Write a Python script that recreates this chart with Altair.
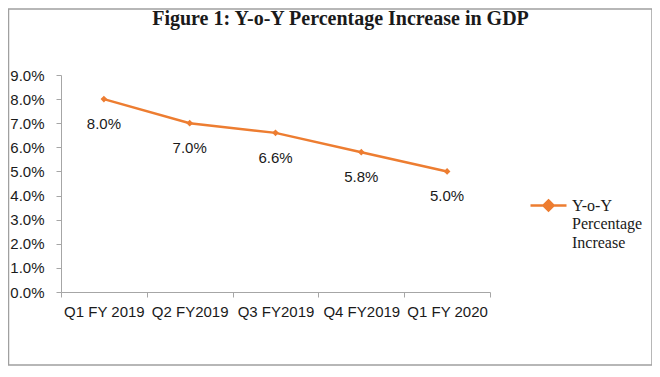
import altair as alt
import pandas as pd

quarters = ["Q1 FY 2019", "Q2 FY2019", "Q3 FY2019", "Q4 FY2019", "Q1 FY 2020"]
growth = [0.080, 0.070, 0.066, 0.058, 0.050]
series_name = "Y-o-Y Percentage Increase"
legend_lines = ["Y-o-Y", "Percentage", "Increase"]
y_ticks = [i / 100 for i in range(0, 10)]

df = pd.DataFrame({"quarter": quarters, "growth": growth, "series": [series_name] * len(quarters)})

ORANGE = "#ED7D31"
AXIS_GRAY = "#a6a6a6"
TEXT = "#1a1a1a"

x_enc = alt.X("quarter:N", sort=quarters, title=None,
              scale=alt.Scale(paddingInner=0, paddingOuter=0),
              axis=alt.Axis(labelAngle=0, tickBand="extent", domainColor=AXIS_GRAY,
                            tickColor=AXIS_GRAY, tickSize=5, labelPadding=7,
                            labelFont="Liberation Sans", labelFontSize=15,
                            labelColor=TEXT, grid=False))
y_enc = alt.Y("growth:Q", title=None,
              scale=alt.Scale(domain=[0, 0.09], nice=False),
              axis=alt.Axis(values=y_ticks, format=".1%", domainColor=AXIS_GRAY,
                            tickColor=AXIS_GRAY, tickSize=5, labelPadding=12,
                            labelFont="Liberation Sans", labelFontSize=15,
                            labelColor=TEXT, grid=False))

base = alt.Chart(df)

diamond_line = "M-1,0L1,0M0,-0.28L0.28,0L0,0.28L-0.28,0Z"
label_expr = "[" + ", ".join("'" + s + "'" for s in legend_lines) + "]"

line = base.mark_line(strokeWidth=2.5).encode(
    x=x_enc, y=y_enc,
    color=alt.Color("series:N", scale=alt.Scale(range=[ORANGE]),
                    legend=alt.Legend(title=None, orient="none", legendX=468, legendY=111,
                                      symbolType=diamond_line, symbolSize=1296,
                                      symbolStrokeWidth=2.5, symbolFillColor=ORANGE,
                                      labelOffset=4, padding=0,
                                      labelFont="Liberation Serif", labelFontSize=16,
                                      labelColor=TEXT, labelLimit=200,
                                      labelExpr=label_expr)),
)

points = base.mark_point(shape="diamond", filled=True, size=45, opacity=1).encode(
    x=x_enc, y=y_enc, color=alt.Color("series:N", legend=None)
)

labels = base.mark_text(dy=25, font="Liberation Sans", fontSize=15, color=TEXT).encode(
    x=x_enc, y=y_enc, text=alt.Text("growth:Q", format=".1%")
)

frame = alt.Chart(pd.DataFrame({"a": [0]})).mark_rect(
    fill="transparent", stroke="#a0a0a0", strokeWidth=1.5
).encode(
    x=alt.value(-52.5), x2=alt.value(591), y=alt.value(-66), y2=alt.value(290)
)

chart = alt.layer(frame, line, points, labels).properties(
    width=429, height=217,
    autosize=alt.AutoSizeParams(type="none"),
    padding={"left": 53, "top": 67, "right": 162, "bottom": 74},
    title=alt.TitleParams("Figure 1: Y-o-Y Percentage Increase in GDP",
                          font="Liberation Serif", fontSize=20, fontWeight="bold",
                          color=TEXT, anchor="middle", dx=65, offset=0, dy=21),
).configure(
    style={"guide-label": {"lineHeight": 18.5}},
    view={"stroke": None},
)

chart.save("out.html", embed_options={"renderer": "svg", "actions": False})
